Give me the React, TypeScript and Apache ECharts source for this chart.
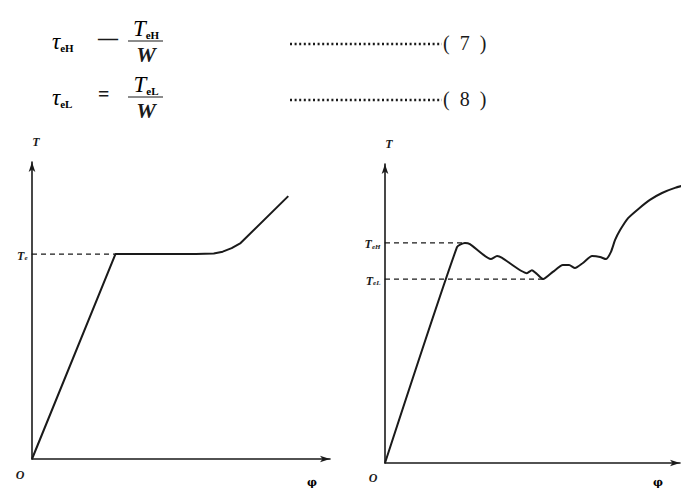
import React, { useEffect, useRef } from "react";
import * as echarts from "echarts";

// Left figure: torque T against twist angle phi (continuous yield)
const leftPhi = [0, 28, 40, 55, 61, 64, 67, 70, 86];
const leftTorque = [0, 69, 69, 69, 69.2, 69.8, 71, 72.7, 88.5];
const leftYieldTorque = 69;
const leftYieldPhi = 28;

// Right figure: torque with upper and lower yield points
const rightPhi = [0, 24.4, 27.1, 28.8, 35.9, 38, 39.7, 48.1, 49.8, 51.5, 53.6, 56.9, 60.3, 62.4, 64.4, 67.1, 70.2, 72.9, 74.9, 76.6, 78, 79.7, 82.4, 85.8, 89.8, 93.9, 98.3, 103];
const rightTorque = [0, 72.2, 73.6, 73.2, 68.2, 69.2, 68.6, 63.5, 64.5, 63.2, 61.5, 63.9, 66.2, 66.2, 65.2, 66.9, 69.2, 68.9, 68.2, 70.6, 74.6, 77.9, 81.9, 84.9, 88, 90.3, 92, 93.3];
const upperYieldTorque = 73.6;
const upperYieldPhi = 27.1;
const lowerYieldTorque = 61.5;
const lowerYieldPhi = 53.6;

const axisMin = 0;
const axisMax = 100;

const SERIF = "'Liberation Serif', 'DejaVu Serif', serif";
const INK = "#1a1a1a";

const subRich = {
  m: { fontFamily: SERIF, fontStyle: "italic", fontWeight: "bold", fontSize: 12, color: INK, verticalAlign: "bottom", lineHeight: 15 },
  s: { fontFamily: SERIF, fontStyle: "italic", fontWeight: "bold", fontSize: 7, color: INK, verticalAlign: "bottom", lineHeight: 12 },
};

const formulaRich = {
  t: { fontFamily: SERIF, fontStyle: "italic", fontSize: 23, color: INK, verticalAlign: "bottom", lineHeight: 26 },
  s: { fontFamily: SERIF, fontWeight: "bold", fontSize: 11, color: INK, verticalAlign: "bottom", lineHeight: 20 },
};

function makeAxisX(gridIndex: number) {
  return {
    type: "value",
    gridIndex,
    min: axisMin,
    max: axisMax,
    axisLine: { show: true, symbol: ["none", "arrow"], symbolSize: [5, 10], lineStyle: { color: INK, width: 1.6 } },
    axisTick: { show: false },
    axisLabel: { show: false },
    splitLine: { show: false },
  };
}

function makeAxisY(gridIndex: number) {
  return {
    type: "value",
    gridIndex,
    min: axisMin,
    max: axisMax,
    name: "T",
    nameLocation: "end",
    nameGap: 14,
    nameTextStyle: { fontFamily: SERIF, fontStyle: "italic", fontWeight: "bold", fontSize: 12, color: INK, padding: [0, 0, 0, 8] },
    axisLine: { show: true, symbol: ["none", "arrow"], symbolSize: [5, 10], lineStyle: { color: INK, width: 1.6 } },
    axisTick: { show: false },
    axisLabel: { show: false },
    splitLine: { show: false },
  };
}

function dashed(gridIndex: number, y: number, xEnd: number, label: string) {
  return {
    type: "line",
    xAxisIndex: gridIndex,
    yAxisIndex: gridIndex,
    data: [
      { value: [0, y], label: { show: true, position: "left", distance: 4, formatter: label, rich: subRich } },
      { value: [xEnd, y], label: { show: false } },
    ],
    showSymbol: true,
    symbol: "circle",
    symbolSize: 1,
    itemStyle: { color: INK },
    lineStyle: { color: INK, width: 1.2, type: [5, 4] },
    z: 1,
  };
}

function formulaRow(y: number, sub: string, eq: string, num: string) {
  return [
    { type: "text", x: 52, y, style: { text: `{t|τ}{s|${sub}}`, rich: formulaRich, textVerticalAlign: "middle" } },
    { type: "text", x: 98, y: y - 2, style: { text: eq, font: `bold 20px ${SERIF}`, fill: INK, textVerticalAlign: "middle" } },
    { type: "text", x: 146, y: y - 13, style: { text: `{t|T}{s|${num}}`, rich: formulaRich, textAlign: "center", textVerticalAlign: "middle" } },
    { type: "line", shape: { x1: 128, y1: y + 1, x2: 163, y2: y + 1 }, style: { stroke: INK, lineWidth: 1.2 } },
    { type: "text", x: 146, y: y + 14, style: { text: "W", font: `italic bold 22px ${SERIF}`, fill: INK, textAlign: "center", textVerticalAlign: "middle" } },
  ];
}

function leader(y: number, label: string) {
  return [
    { type: "line", shape: { x1: 290, y1: y, x2: 442, y2: y }, style: { stroke: INK, lineWidth: 2.4, lineDash: [2, 2.6] } },
    { type: "text", x: 443, y: y - 1, style: { text: label, font: `20px ${SERIF}`, fill: INK, textVerticalAlign: "middle" } },
  ];
}

export default function App() {
  const ref = useRef<HTMLDivElement>(null);
  useEffect(() => {
    if (!ref.current) return;
    const chart = echarts.init(ref.current, null, { renderer: "svg" });
    const option = {
      animation: false,
      backgroundColor: "#ffffff",
      grid: [
        { left: 32, top: 162, width: 298, height: 297 },
        { left: 385, top: 164, width: 295, height: 299 },
      ],
      xAxis: [makeAxisX(0), makeAxisX(1)],
      yAxis: [makeAxisY(0), makeAxisY(1)],
      series: [
        dashed(0, leftYieldTorque, leftYieldPhi, "{m|T}{s|e}"),
        {
          type: "line",
          xAxisIndex: 0,
          yAxisIndex: 0,
          data: leftPhi.map((p, i) => [p, leftTorque[i]]),
          showSymbol: false,
          symbol: "none",
          lineStyle: { color: INK, width: 2 },
          z: 3,
        },
        dashed(1, upperYieldTorque, upperYieldPhi, "{m|T}{s|eH}"),
        dashed(1, lowerYieldTorque, lowerYieldPhi, "{m|T}{s|eL}"),
        {
          type: "line",
          xAxisIndex: 1,
          yAxisIndex: 1,
          data: rightPhi.map((p, i) => [p, rightTorque[i]]),
          showSymbol: false,
          symbol: "none",
          smooth: 0.2,
          clip: false,
          lineStyle: { color: INK, width: 2 },
          z: 3,
        },
      ],
      graphic: [
        ...formulaRow(40, "eH", "—", "eH"),
        ...formulaRow(96, "eL", "=", "eL"),
        ...leader(44, "(  7  )"),
        ...leader(100, "(  8  )"),
        { type: "text", x: 20, y: 475, style: { text: "O", font: `italic bold 12px ${SERIF}`, fill: INK, textAlign: "center", textVerticalAlign: "middle" } },
        { type: "text", x: 312, y: 482, style: { text: "φ", font: `bold 11px 'DejaVu Serif', serif`, fill: "#000000", textAlign: "center", textVerticalAlign: "middle" } },
        { type: "text", x: 373, y: 478, style: { text: "O", font: `italic bold 12px ${SERIF}`, fill: INK, textAlign: "center", textVerticalAlign: "middle" } },
        { type: "text", x: 658, y: 482, style: { text: "φ", font: `bold 11px 'DejaVu Serif', serif`, fill: "#000000", textAlign: "center", textVerticalAlign: "middle" } },
      ],
    };
    chart.setOption(option as any);
    return () => chart.dispose();
  }, []);
  return <div ref={ref} style={{ position: "fixed", left: 0, top: 0, width: 689, height: 491 }} />;
}
